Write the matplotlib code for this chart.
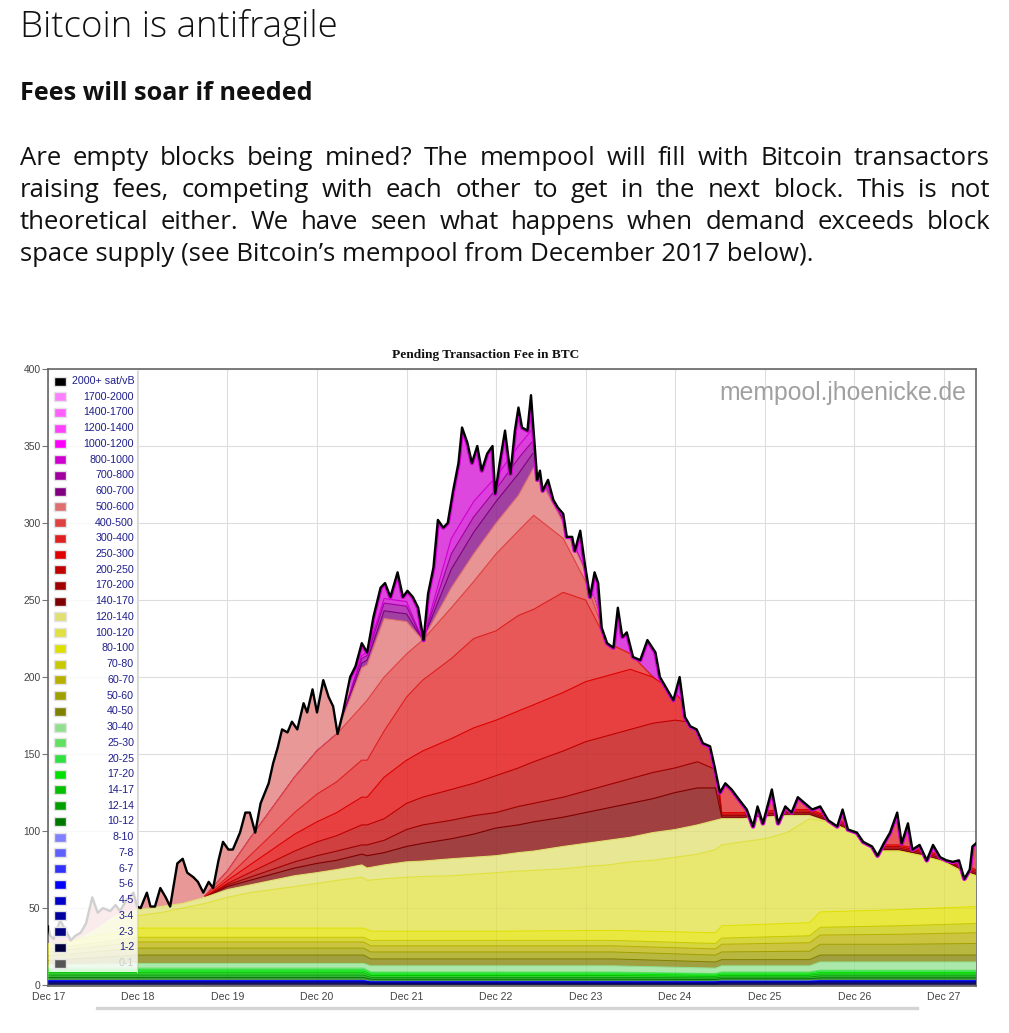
import numpy as np
import matplotlib
matplotlib.use("Agg")
import matplotlib.pyplot as plt
from matplotlib.patches import Polygon, Rectangle
from matplotlib.lines import Line2D
from matplotlib.colors import to_rgb

# ---------------------------------------------------------------- text
heading = "Bitcoin is antifragile"
subheading = "Fees will soar if needed"
paragraph_lines = [
    "Are empty blocks being mined? The mempool will fill with Bitcoin transactors",
    "raising fees, competing with each other to get in the next block. This is not",
    "theoretical either. We have seen what happens when demand exceeds block",
    "space supply (see Bitcoin\u2019s mempool from December 2017 below).",
]
chart_title = "Pending Transaction Fee in BTC"
watermark = "mempool.jhoenicke.de"
x_tick_days = [0, 1, 2, 3, 4, 5, 6, 7, 8, 9, 10]
x_tick_labels = ["Dec 17", "Dec 18", "Dec 19", "Dec 20", "Dec 21", "Dec 22",
                 "Dec 23", "Dec 24", "Dec 25", "Dec 26", "Dec 27"]
y_ticks = [0, 50, 100, 150, 200, 250, 300, 350, 400]

# fee bands, bottom-up (sat/vB)
fee_bands = ["0-1", "1-2", "2-3", "3-4", "4-5", "5-6", "6-7", "7-8", "8-10",
             "10-12", "12-14", "14-17", "17-20", "20-25", "25-30", "30-40",
             "40-50", "50-60", "60-70", "70-80", "80-100", "100-120", "120-140",
             "140-170", "170-200", "200-250", "250-300", "300-400", "400-500",
             "500-600", "600-700", "700-800", "800-1000", "1000-1200",
             "1200-1400", "1400-1700", "1700-2000", "2000+ sat/vB"]
band_colors = ["#555555", "#00003c", "#000080", "#0000a0", "#0000c8", "#0000ff",
               "#3030ff", "#6060ff", "#8080ff",
               "#007800", "#00a000", "#00c000", "#00e000", "#30e040", "#60e060",
               "#90e090",
               "#808000", "#a0a000", "#b8b000", "#c8c800", "#e0e000", "#e0e040",
               "#e0e070",
               "#800000", "#a00000", "#c00000", "#e00000", "#e02020", "#e04040",
               "#e07070", "#800080", "#a000a0", "#d000d0", "#ff00ff",
               "#ff40ff", "#ff60ff", "#ff80ff", "#000000"]
hidden_band = "0-1"

# ---------------------------------------------------------------- total pending fee (BTC)
days_total = [0.00, 0.02, 0.06, 0.13, 0.19, 0.25, 0.30, 0.36, 0.42, 0.49,
              0.55, 0.61, 0.69, 0.75, 0.80, 0.87, 0.95, 0.99, 1.03, 1.10,
              1.14, 1.19, 1.25, 1.31, 1.36, 1.44, 1.50, 1.55, 1.62, 1.67,
              1.73, 1.79, 1.84, 1.90, 1.95, 2.01, 2.06, 2.14, 2.20, 2.25,
              2.31, 2.37, 2.46, 2.51, 2.56, 2.61, 2.67, 2.72, 2.78, 2.85,
              2.89, 2.95, 3.00, 3.07, 3.13, 3.18, 3.23, 3.29, 3.37, 3.43,
              3.50, 3.56, 3.63, 3.71, 3.76, 3.82, 3.90, 3.96, 4.01, 4.07,
              4.13, 4.19, 4.24, 4.30, 4.35, 4.41, 4.46, 4.52, 4.58, 4.62,
              4.68, 4.73, 4.79, 4.84, 4.90, 4.96, 4.99, 5.04, 5.10, 5.16,
              5.21, 5.25, 5.29, 5.35, 5.39, 5.41, 5.46, 5.49, 5.52, 5.58,
              5.64, 5.69, 5.75, 5.79, 5.85, 5.88, 5.94, 5.99, 6.05, 6.10,
              6.14, 6.18, 6.24, 6.31, 6.36, 6.41, 6.46, 6.53, 6.61, 6.69,
              6.78, 6.83, 6.91, 6.98, 7.05, 7.11, 7.17, 7.24, 7.31, 7.39,
              7.44, 7.50, 7.56, 7.63, 7.72, 7.80, 7.87, 7.92, 7.98, 8.08,
              8.15, 8.23, 8.30, 8.37, 8.45, 8.53, 8.62, 8.71, 8.81, 8.87,
              8.93, 9.03, 9.10, 9.20, 9.26, 9.33, 9.40, 9.48, 9.53, 9.60,
              9.65, 9.73, 9.81, 9.88, 9.96, 10.03, 10.10, 10.17, 10.23, 10.29,
              10.32, 10.36]
total_btc = [38, 32, 30, 42, 36, 29, 32, 34, 40, 57,
             47, 50, 48, 52, 48, 55, 60, 51, 50, 60,
             51, 51, 63, 57, 51, 79, 82, 73, 70, 67,
             60, 67, 63, 81, 93, 88, 88, 99, 112, 112,
             99, 118, 131, 144, 154, 166, 164, 171, 166, 183,
             177, 192, 177, 198, 187, 181, 163, 177, 200, 207,
             222, 216, 239, 258, 261, 252, 268, 252, 256, 252,
             245, 224, 254, 271, 302, 297, 300, 321, 339, 362,
             352, 339, 350, 334, 345, 350, 319, 339, 360, 332,
             360, 375, 362, 360, 383, 367, 328, 334, 321, 328,
             315, 310, 306, 291, 291, 282, 295, 274, 252, 268,
             261, 232, 222, 219, 245, 226, 229, 213, 211, 224,
             216, 200, 192, 185, 200, 174, 168, 166, 157, 155,
             142, 125, 131, 127, 120, 114, 103, 116, 105, 127,
             105, 116, 112, 122, 118, 114, 116, 107, 103, 114,
             101, 99, 93, 90, 84, 92, 99, 112, 92, 105,
             88, 91, 81, 91, 83, 81, 80, 81, 69, 75,
             90, 92]

# ---------------------------------------------------------------- low fee bands (BTC per band)
days_base = [0, 1, 2, 3, 3.52, 3.6, 5, 6.3, 7.45, 7.52, 8.5, 8.62, 9.5, 10.36]
s_1_2 =    [0.8, 0.8, 0.8, 0.8, 0.8, 0.6, 0.6, 0.6, 0.6, 0.7, 0.7, 0.8, 0.8, 0.8]
s_2_3 =    [0.7, 0.7, 0.7, 0.7, 0.7, 0.5, 0.5, 0.5, 0.5, 0.6, 0.6, 0.7, 0.7, 0.7]
s_3_4 =    [0.5, 0.5, 0.5, 0.5, 0.5, 0.4, 0.4, 0.4, 0.4, 0.45, 0.45, 0.5, 0.5, 0.5]
s_4_5 =    [0.4, 0.4, 0.4, 0.4, 0.4, 0.3, 0.3, 0.3, 0.3, 0.35, 0.35, 0.4, 0.4, 0.4]
s_5_6 =    [0.3, 0.3, 0.3, 0.3, 0.3, 0.2, 0.2, 0.2, 0.2, 0.25, 0.25, 0.3, 0.3, 0.3]
s_6_7 =    [0.1, 0.1, 0.1, 0.1, 0.1, 0.1, 0.1, 0.1, 0.1, 0.1, 0.1, 0.1, 0.1, 0.1]
s_7_8 =    [0.1, 0.1, 0.1, 0.1, 0.1, 0.05, 0.05, 0.05, 0.05, 0.08, 0.08, 0.1, 0.1, 0.1]
s_8_10 =   [0.1, 0.1, 0.1, 0.1, 0.1, 0.05, 0.05, 0.05, 0.05, 0.08, 0.08, 0.1, 0.1, 0.1]
s_10_12 =  [2.0, 2.0, 2.0, 2.0, 2.0, 1.6, 1.6, 1.6, 1.4, 1.5, 1.5, 1.7, 1.7, 1.7]
s_12_14 =  [1.5, 1.5, 1.5, 1.5, 1.5, 1.2, 1.2, 1.2, 1.0, 1.1, 1.1, 1.3, 1.3, 1.3]
s_14_17 =  [1.5, 1.5, 1.5, 1.5, 1.5, 1.2, 1.2, 1.2, 1.0, 1.1, 1.1, 1.2, 1.2, 1.2]
s_17_20 =  [1.2, 1.2, 1.2, 1.2, 1.2, 1.0, 1.0, 1.0, 0.8, 0.9, 0.9, 1.0, 1.0, 1.0]
s_20_25 =  [1.0, 1.0, 1.0, 1.0, 1.0, 0.8, 0.8, 0.8, 0.7, 0.8, 0.8, 0.9, 0.9, 0.9]
s_25_30 =  [0.8, 0.8, 0.8, 0.8, 0.8, 0.5, 0.5, 0.5, 0.4, 0.5, 0.5, 0.6, 0.6, 0.6]
s_30_40 =  [2.0, 3.0, 3.0, 3.0, 3.0, 4.0, 4.0, 4.0, 3.5, 4.0, 4.0, 5.3, 5.3, 5.3]
s_40_50 =  [3.0, 5.5, 5.5, 5.5, 5.5, 4.5, 4.5, 4.5, 4.0, 4.0, 4.0, 4.5, 4.5, 4.5]
s_50_60 =  [3.0, 4.5, 4.5, 4.5, 4.5, 4.5, 4.5, 4.5, 4.5, 5.0, 5.5, 7.0, 7.0, 7.5]
s_60_70 =  [2.5, 4.0, 4.0, 4.0, 4.0, 4.0, 4.0, 4.0, 4.0, 5.0, 5.5, 6.0, 6.5, 7.0]
s_70_80 =  [2.0, 3.0, 3.0, 3.0, 3.0, 3.5, 3.5, 3.5, 3.5, 4.0, 4.5, 5.0, 5.5, 6.0]
s_80_100 = [2.5, 6.0, 6.0, 6.0, 6.0, 6.0, 6.0, 6.5, 7.0, 8.0, 8.5, 10.0, 10.5, 11.0]
base_series = [s_1_2, s_2_3, s_3_4, s_4_5, s_5_6, s_6_7, s_7_8, s_8_10,
               s_10_12, s_12_14, s_14_17, s_17_20, s_20_25, s_25_30, s_30_40,
               s_40_50, s_50_60, s_60_70, s_70_80, s_80_100]

# ---------------------------------------------------------------- upper yellow bands (stack top, BTC)
days_mid = [0, 0.25, 0.5, 0.75, 1.0, 1.25, 1.5, 1.75, 2.0, 2.25, 2.5, 2.75, 3.0,
            3.22, 3.5, 3.56, 3.75, 4.0, 4.18, 4.5, 4.75, 5.0, 5.25, 5.42, 5.75,
            6.0, 6.25, 6.5, 6.75, 7.0, 7.25, 7.45, 7.52, 7.75, 8.0, 8.25, 8.5,
            8.7, 9.0, 9.25, 9.5, 9.75, 10.0, 10.2, 10.36]
top_100_120 = [26.5, 27, 33, 42, 45, 47, 50, 53, 57, 60, 62, 64, 66,
               68, 70, 68, 69, 70, 70.5, 71, 72, 73, 74, 74.5, 75.5,
               77, 78, 80, 81, 83, 85, 88, 91, 93, 95, 99, 108,
               106, 99, 87, 87, 84, 80, 74, 71]
top_120_140 = [27, 27.5, 35, 45, 49, 51, 53, 57, 62, 65, 68, 71, 73,
               75, 78, 76, 78, 80, 80.5, 82, 83, 84, 86, 87, 90,
               92, 94, 96, 99, 101, 104, 107, 108, 108, 109, 110, 110,
               106, 99, 87, 87, 84, 80, 74, 71]

# ---------------------------------------------------------------- high fee bands (stack top, BTC)
days_red = [1.75, 2.0, 2.25, 2.5, 2.75, 3.0, 3.22, 3.5, 3.56, 3.75, 4.0, 4.18,
            4.5, 4.75, 5.0, 5.25, 5.42, 5.75, 6.0, 6.25, 6.5, 6.75, 7.0, 7.25,
            7.45, 7.52, 7.75, 8.0, 8.25, 8.5, 8.7, 9.0, 9.25, 9.5, 9.75, 10.0,
            10.2, 10.36]
top_140_170 = [57, 64, 68, 72, 76, 79, 81, 85, 84, 86, 90, 92,
               95, 98, 102, 104, 106, 109, 112, 115, 118, 121, 125, 128,
               128, 109, 109, 110, 111, 111, 107, 100, 88, 88, 85, 81, 75, 72]
top_170_200 = [57, 65, 70, 75, 80, 84, 87, 91, 91, 94, 101, 104,
               107, 110, 112, 116, 118, 122, 126, 130, 134, 138, 141, 145,
               140, 110, 110, 111, 112, 112, 108, 101, 89, 89, 86, 82, 76, 73]
top_200_250 = [57, 66, 73, 80, 87, 93, 97, 104, 104, 108, 118, 122,
               127, 131, 136, 141, 145, 152, 158, 162, 166, 170, 172, 170,
               145, 111, 111, 112, 113, 113, 109, 102, 90, 90, 87, 83, 77, 74]
top_250_300 = [57, 68, 78, 88, 98, 106, 112, 122, 122, 135, 146, 152,
               160, 167, 172, 178, 182, 190, 197, 201, 205, 200, 190, 172,
               150, 112, 112, 113, 114, 114, 110, 103, 91, 91, 88, 84, 78, 75]
top_300_400 = [58, 70, 84, 98, 112, 124, 132, 146, 146, 165, 187, 198,
               212, 225, 230, 240, 244, 255, 250, 222, 215, 200, 185, 165,
               142, 135, 135, 135, 135, 135, 135, 135, 135, 135, 135, 135, 135, 135]
top_400_500 = [58, 74, 95, 115, 135, 152, 163, 181, 185, 200, 215, 224,
               245, 262, 280, 295, 305, 290, 262, 222, 215, 200, 185, 165,
               142, 135, 135, 135, 135, 135, 135, 135, 135, 135, 135, 135, 135, 135]
top_500_600 = [58, 74, 95, 115, 135, 152, 163, 206, 208, 238, 236, 224,
               258, 280, 300, 318, 336, 300, 268, 222, 215, 200, 185, 165,
               142, 135, 135, 135, 135, 135, 135, 135, 135, 135, 135, 135, 135, 135]
top_600_700 = [58, 74, 95, 115, 135, 152, 163, 209, 211, 243, 241, 224,
               270, 294, 314, 332, 346, 301, 268, 222, 215, 200, 185, 165,
               142, 135, 135, 135, 135, 135, 135, 135, 135, 135, 135, 135, 135, 135]
top_700_800 = [58, 74, 95, 115, 135, 152, 163, 212, 214, 248, 246, 224,
               280, 304, 322, 342, 354, 302, 268, 222, 215, 200, 185, 165,
               142, 135, 135, 135, 135, 135, 135, 135, 135, 135, 135, 135, 135, 135]
top_800_1000 = [58, 74, 95, 115, 135, 152, 163, 214, 216, 251, 249, 224,
                290, 314, 330, 350, 362, 303, 268, 222, 215, 200, 185, 165,
                142, 135, 135, 135, 135, 135, 135, 135, 135, 135, 135, 135, 135, 135]
red_levels = [top_140_170, top_170_200, top_200_250, top_250_300, top_300_400,
              top_400_500, top_500_600, top_600_700, top_700_800, top_800_1000]

# ---------------------------------------------------------------- figure
W, H = 1009, 1033
fig = plt.figure(figsize=(W / 100, H / 100), dpi=100)
renderer = fig.canvas.get_renderer()


def fx(x):
    return x / W


def fy(y):
    return 1 - y / H


def blend(c, a=0.75):
    r = np.array(to_rgb(c))
    return tuple(a * r + (1 - a))


def fit_text(x, y, s, target_w, **kw):
    t = fig.text(fx(x), fy(y), s, fontsize=12, **kw)
    w = t.get_window_extent(renderer).width
    t.set_fontsize(12 * target_w / w)
    return t


BODY = ["Open Sans", "DejaVu Sans"]
fit_text(20, 37, heading, 318, family=BODY, weight="light", color="#111111",
         va="baseline", ha="left")
fit_text(20, 100, subheading, 293, family=BODY, weight="bold", color="#111111",
         va="baseline", ha="left")

# paragraph: last line sets the size, the others are justified
last = fit_text(20, 261, paragraph_lines[-1], 790, family=BODY, color="#111111",
                va="baseline", ha="left")
psize = last.get_fontsize()
for i, line in enumerate(paragraph_lines[:-1]):
    words = line.split(" ")
    base_y = 165 + 32 * i
    ts = [fig.text(0, fy(base_y), w, fontsize=psize, family=BODY, color="#111111",
                   va="baseline", ha="left") for w in words]
    widths = [t.get_window_extent(renderer).width for t in ts]
    gap = (990 - 20 - sum(widths)) / (len(words) - 1)
    xx = 20
    for t, w in zip(ts, widths):
        t.set_x(fx(xx))
        xx += w + gap

CHART = ["Liberation Sans", "DejaVu Sans"]
fit_text(486, 358, chart_title, 185, family=["Liberation Serif", "DejaVu Serif"],
         weight="bold", color="#111111", va="baseline", ha="center")

# ---------------------------------------------------------------- axes
ax = fig.add_axes([fx(47.5), fy(986), (976 - 47.5) / W, (986 - 369) / H])
ax.set_xlim(-0.01, 10.36)
ax.set_ylim(-0.6, 400)
ax.set_xticks(x_tick_days)
ax.set_xticklabels(x_tick_labels)
ax.set_yticks(y_ticks)
ax.tick_params(axis="x", length=0, pad=4.5, labelsize=7.6, labelcolor="#444444")
ax.tick_params(axis="y", length=4, width=0.8, color="#777777", pad=1,
               labelsize=7.4, labelcolor="#444444")
for lab in ax.get_xticklabels() + ax.get_yticklabels():
    lab.set_family(CHART)
for sp in ax.spines.values():
    sp.set_color("#666666")
    sp.set_linewidth(1.2)
ax.set_axisbelow(True)
ax.grid(True, color="#dddddd", linewidth=0.8)

# clip region: everything under the total line
dt = np.array(days_total, dtype=float)
tt = np.array(total_btc, dtype=float)
area = Polygon(np.column_stack([np.r_[dt[0], dt, dt[-1]], np.r_[0, tt, 0]]),
               closed=True, facecolor="none", edgecolor="none")
ax.add_patch(area)


def under(days, level):
    d = np.asarray(days, dtype=float)
    v = np.asarray(level, dtype=float)
    return np.column_stack([np.r_[d[0], d, d[-1]], np.r_[0, v, 0]])


def band(days, level, color, z, lw=0.8):
    p = Polygon(under(days, level), closed=True, facecolor=blend(color),
                edgecolor="none", zorder=z)
    ax.add_patch(p)
    p.set_clip_path(area)
    ln, = ax.plot(days, level, color=color, lw=lw, zorder=z + 0.5)
    ln.set_clip_path(area)


idx = {name: i for i, name in enumerate(fee_bands)}
z = 2.0
# fringe under the top line: 500-600 early on, 800-1000 magenta later
split = int(np.searchsorted(dt, 3.3))
for seg, name in [(slice(0, split + 1), "500-600"), (slice(split, None), "800-1000")]:
    p = Polygon(under(dt[seg], tt[seg]), closed=True,
                facecolor=blend(band_colors[idx[name]], 0.72), edgecolor="none", zorder=z)
    ax.add_patch(p)
    p.set_clip_path(area)
z += 1

red_names = ["140-170", "170-200", "200-250", "250-300", "300-400", "400-500",
             "500-600", "600-700", "700-800", "800-1000"]
for name, lev in reversed(list(zip(red_names, red_levels))):
    band(days_red, lev, band_colors[idx[name]], z)
    z += 1
band(days_mid, top_120_140, band_colors[idx["120-140"]], z); z += 1
band(days_mid, top_100_120, band_colors[idx["100-120"]], z); z += 1

cum = np.cumsum(np.array(base_series, dtype=float), axis=0)
base_names = fee_bands[1:21]
for k in range(len(base_names) - 1, -1, -1):
    band(days_base, cum[k], band_colors[idx[base_names[k]]], z, lw=0.7)
    z += 1

# faint grid seen through the translucent areas
for gy in y_ticks[1:-1]:
    l = ax.axhline(gy, color="black", alpha=0.035, lw=0.8, zorder=z)
    l.set_clip_path(area)
for gx in x_tick_days[1:]:
    l = ax.axvline(gx, color="black", alpha=0.035, lw=0.8, zorder=z)
    l.set_clip_path(area)
z += 1

# magenta edge just below the top line, then the black 2000+ line
edge, = ax.plot(dt[split:], tt[split:], color="#e000e0", lw=3.3,
                zorder=z, solid_joinstyle="round")
edge.set_clip_path(area)
ax.plot(dt, tt, color="black", lw=1.7, zorder=z + 1, solid_joinstyle="round")

fit_text(966, 400, watermark, 248, family=CHART, color="#a0a0a0",
         va="baseline", ha="right")

# ---------------------------------------------------------------- legend
fig.add_artist(Rectangle((fx(48.5), fy(972)), (137 - 48.5) / W, (972 - 371) / H,
                         transform=fig.transFigure, facecolor="white", alpha=0.82,
                         edgecolor="none", zorder=5))
fig.add_artist(Line2D([fx(137), fx(137)], [fy(371), fy(972)], color="#d8d8d8",
                      lw=0.8, zorder=5))
step = (963 - 381) / 37
for i, (name, col) in enumerate(zip(fee_bands[::-1], band_colors[::-1])):
    yc = 381 + i * step
    fig.add_artist(Rectangle((fx(54), fy(yc + 4.5)), 12 / W, 9 / H,
                             transform=fig.transFigure, facecolor=col,
                             edgecolor="#e4e4e4", lw=1.0, zorder=6))
    fig.text(fx(134), fy(yc), name, ha="right", va="center", fontsize=7.7,
             family=CHART, color="#cccccc" if name == hidden_band else "#1e1e8c",
             zorder=6)

# scrollbar under the chart
fig.add_artist(Line2D([fx(97), fx(917)], [fy(1008), fy(1008)], color="#d4d4d4",
                      lw=2.4, zorder=5))

fig.savefig("out.png", dpi=100)
